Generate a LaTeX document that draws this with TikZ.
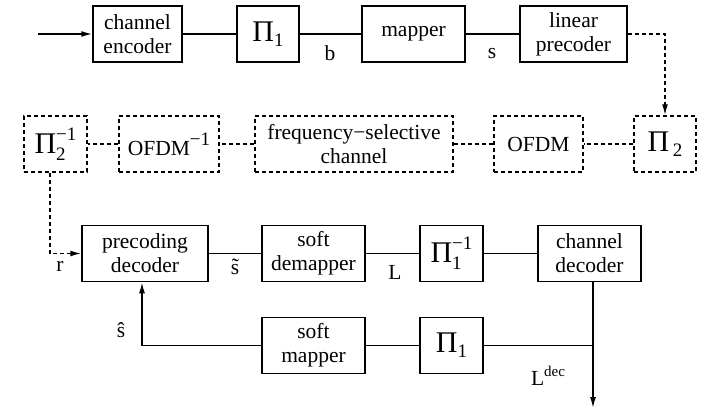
\documentclass[tikz,border=0pt]{standalone}
\usepackage{fontspec}
\setmainfont{Liberation Serif}
\usetikzlibrary{arrows.meta}
\newcommand\bigpi{{\fontsize{30}{30}\selectfont Π}}
\newcommand\smallfs{\fontsize{19}{19}\selectfont}
\newcommand\PiSub[1]{\bigpi\raisebox{-5pt}{\smallfs #1}}
\newcommand\PiSubSup[2]{\bigpi\rlap{\raisebox{-7pt}{\smallfs #1}}\raisebox{13pt}{\smallfs #2}}
\tikzset{
  blk/.style={draw, line width=1.5pt, minimum height=56pt, inner sep=0pt, align=center, font=\fontsize{21.5}{24}\selectfont},
  dblk/.style={blk, dash pattern=on 4pt off 3pt},
  wire/.style={line width=1.5pt},
  dwire/.style={wire, dash pattern=on 4pt off 3pt},
  arr/.style={-{Latex[length=11pt,width=6pt]}},
  lbl/.style={font=\fontsize{21.5}{24}\selectfont, inner sep=0pt}
}
\begin{document}
\begin{tikzpicture}[x=1pt,y=-1pt]
\useasboundingbox[fill=white] (0,0) rectangle (715,410);
% row 1
\node[blk, minimum width=89pt] (enc) at (137.5,34) {channel\\encoder};
\node[blk, minimum width=62pt] (pia) at (268,34) {\PiSub{1}};
\node[blk, minimum width=103pt] (map) at (413.5,34) {mapper};
\node[blk, minimum width=107pt] (lin) at (573.5,34) {linear\\precoder};
% row 2
\node[dblk, minimum width=63pt] (pi2i) at (55.5,144) {\PiSubSup{2}{−1}};
\node[dblk, minimum width=100pt] (ofdmi) at (169,144) {OFDM\raisebox{10pt}{\smallfs −1}};
\node[dblk, minimum width=198pt] (chan) at (354,144) {frequency−selective\\channel};
\node[dblk, minimum width=89pt] (ofdm) at (538.5,144) {OFDM};
\node[dblk, minimum width=62pt] (pi2) at (665,144) {\bigpi\,\raisebox{-5pt}{\smallfs 2}};
% row 3
\node[blk, minimum width=126pt] (pdec) at (145,253.5) {precoding\\decoder};
\node[blk, minimum width=103pt] (sdem) at (313.5,253.5) {soft\\demapper};
\node[blk, minimum width=63pt] (pii) at (451.5,253.5) {\PiSubSup{1}{−1}};
\node[blk, minimum width=103pt] (cdec) at (589.5,253.5) {channel\\decoder};
% row 4
\node[blk, minimum width=103pt] (smap) at (313.5,345.5) {soft\\mapper};
\node[blk, minimum width=63pt] (pib) at (451.5,345.5) {\PiSub{1}};
% coordinates
\coordinate (in) at (38,34);
\coordinate (out) at (593,408);
% row 1 wires
\draw[wire,arr] (in) -- (enc.west);
\draw[wire] (enc) -- (pia);
\draw[wire] (pia) -- (map);
\draw[wire] (map) -- (lin);
\draw[dwire,arr] (lin.east) -| (pi2.north);
% row 2 wires
\draw[dwire] (pi2) -- (ofdm);
\draw[dwire] (ofdm) -- (chan);
\draw[dwire] (chan) -- (ofdmi);
\draw[dwire] (ofdmi) -- (pi2i);
\draw[dwire,arr] ([xshift=-5.5pt]pi2i.south) |- (pdec.west);
% row 3 wires
\draw[wire] (pdec) -- (sdem);
\draw[wire] (sdem) -- (pii);
\draw[wire] (pii) -- (cdec);
\draw[wire,arr] (cdec.south -| out) -- (out);
% row 4 wires
\draw[wire] (pib.east) -- (pib.east -| out);
\draw[wire] (smap) -- (pib);
\draw[wire,arr] (smap.west) -| ([xshift=-3pt]pdec.south);
% labels
\node[lbl] (lb) at (330,53) {b};
\node[lbl] (ls) at (492,54) {s};
\node[lbl] (lr) at (60,266) {r};
\node[lbl] (lst) at (235,267) {\~s};
\node[lbl] (lL) at (395,272) {L};
\node[lbl] (lsh) at (121,330) {\^s};
\node[lbl] (lLd) at (548,376) {L\raisebox{9pt}{\fontsize{15}{15}\selectfont dec}};
\end{tikzpicture}
\end{document}
